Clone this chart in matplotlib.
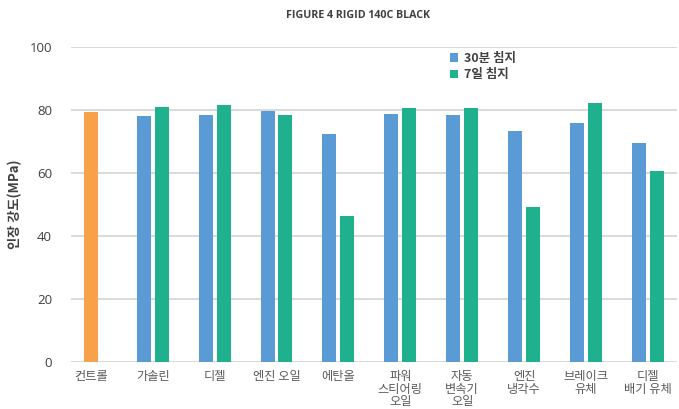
import matplotlib
matplotlib.use("Agg")
import matplotlib.pyplot as plt
import numpy as np

plt.rcParams['font.family'] = ['Noto Sans CJK KR', 'DejaVu Sans']

categories = ["컨트롤", "가솔린", "디젤", "엔진 오일", "에탄올",
              "파워\n스티어링\n오일", "자동\n변속기\n오일", "엔진\n냉각수",
              "브레이크\n유체", "디젤\n배기 유체"]
control_value = 79.5
soak_30min = [None, 78.1, 78.4, 79.7, 72.4, 78.7, 78.4, 73.3, 75.9, 69.5]
soak_7day = [None, 81.0, 81.6, 78.4, 46.3, 80.6, 80.6, 49.2, 82.2, 60.6]
series_labels = ["30분 침지", "7일 침지"]
y_ticks = [0, 20, 40, 60, 80, 100]

c_orange = "#F7A14A"
c_blue = "#5B9BD5"
c_green = "#1FB08E"

fig = plt.figure(figsize=(6.79, 4.09), dpi=100)
ax = fig.add_axes([71 / 679, 1 - 362 / 409, (677 - 71) / 679, (362 - 47) / 409])

x = np.arange(len(categories))
w = 0.226
off = 0.145

ax.bar(x[0], control_value, width=w, color=c_orange, zorder=3)
xs = x[1:]
b1 = ax.bar(xs - off, soak_30min[1:], width=w, color=c_blue, zorder=3,
            label=series_labels[0])
b2 = ax.bar(xs + off, soak_7day[1:], width=w, color=c_green, zorder=3,
            label=series_labels[1])

ax.set_xlim(-0.32, len(categories) - 1 + 0.47)
ax.set_ylim(0, 100)
ax.set_yticks(y_ticks)
ax.set_yticklabels([str(v) for v in y_ticks], fontsize=9.5, color="#404040",
                   family=['Open Sans', 'DejaVu Sans'])
ax.set_xticks(x)
ax.set_xticklabels(categories, fontsize=8.8, color="#595959", linespacing=0.95)
ax.tick_params(axis='y', length=0, pad=13.7)
ax.tick_params(axis='x', length=0, pad=6)
ax.grid(axis='y', color="#D9D9D9", linewidth=1.4, zorder=0)
for s in ax.spines.values():
    s.set_visible(False)

ax.set_ylabel("인장 강도(MPa)", fontsize=9.5, fontweight='bold', color="#404040",
              labelpad=0)
ax.yaxis.set_label_coords(-49 / 606, 0.5)

fig.text(358 / 679, 1 - 15 / 409, "FIGURE 4 RIGID 140C BLACK", ha='center',
         va='center', fontsize=7.7, fontweight='bold', color="#404040",
         family=['Open Sans', 'DejaVu Sans'])

leg = ax.legend(handles=[b1, b2], loc='upper left',
                bbox_to_anchor=((450 - 71) / 606, 1 - (52 - 47) / 315),
                frameon=False, fontsize=9, handlelength=0.65, handleheight=0.65,
                handletextpad=0.45, labelspacing=0.25, borderpad=0,
                borderaxespad=0)
for t in leg.get_texts():
    t.set_fontweight('bold')
    t.set_color("#404040")

fig.savefig("out.png", dpi=100)
